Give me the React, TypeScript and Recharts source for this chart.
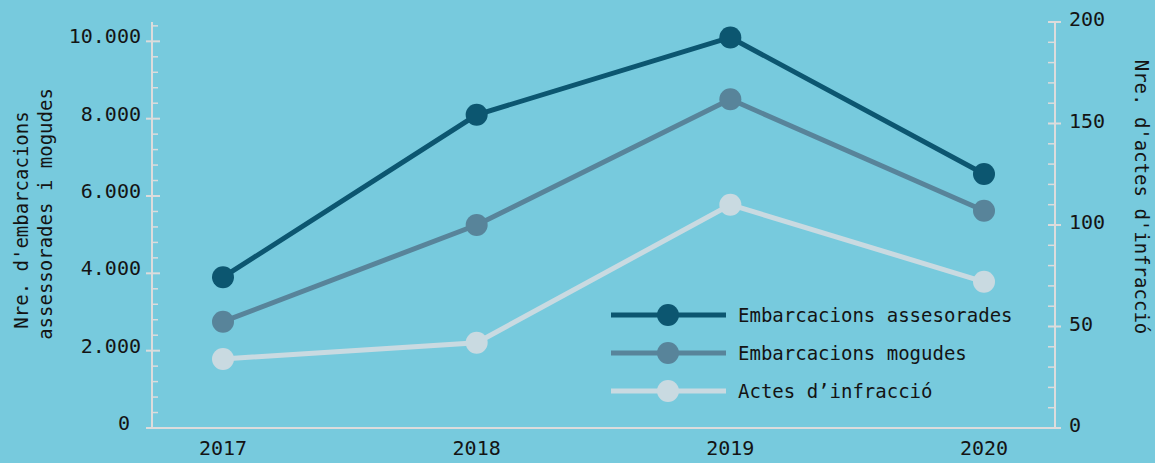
import { LineChart, Line, XAxis, YAxis, Legend } from 'recharts';

// ─── Data ─────────────────────────────────────────────────────────────────────

const YEARS = ['2017', '2018', '2019', '2020'];
const ASSESSORADES = [3900, 8100, 10100, 6570];
const MOGUDES = [2750, 5250, 8500, 5620];
const ACTES = [34, 42, 110, 72];

const LEFT_TICKS = Array.from({ length: 27 }, (_, i) => i * 400); // 0 … 10.400
const RIGHT_TICKS = Array.from({ length: 21 }, (_, i) => i * 10); // 0 … 200

const SERIES = [
  { key: 'assessorades', label: 'Embarcacions assesorades', color: '#0c5670', axis: 'left' },
  { key: 'mogudes', label: 'Embarcacions mogudes', color: '#58849a', axis: 'left' },
  { key: 'actes', label: 'Actes d’infracció', color: '#c9dae1', axis: 'right' },
];

const chartData = YEARS.map((year, i) => ({
  year,
  assessorades: ASSESSORADES[i],
  mogudes: MOGUDES[i],
  actes: ACTES[i],
}));

// ─── Style ────────────────────────────────────────────────────────────────────

const BG = '#77cadd';
const AXIS = '#dcdcdc';
const INK = '#141414';
const FONT = '"DejaVu Sans Mono", monospace';

const fmt = (v: number) => String(v).replace(/\B(?=(\d{3})+(?!\d))/g, '.');

// ─── Ticks ────────────────────────────────────────────────────────────────────

function LeftTick({ x, y, payload }: any) {
  const v = payload.value as number;
  if (v % 2000 !== 0) {
    return <line x1={x} x2={x + 6} y1={y} y2={y} stroke={AXIS} strokeWidth={1.5} />;
  }
  return (
    <g>
      <line x1={x - 6} x2={x + 8} y1={y} y2={y} stroke={AXIS} strokeWidth={2} />
      <text
        x={x - (v === 0 ? 22 : 11)}
        y={y + 2}
        textAnchor="end"
        fontFamily={FONT}
        fontSize={20}
        fill={INK}
      >
        {fmt(v)}
      </text>
    </g>
  );
}

function RightTick({ x, y, payload }: any) {
  const v = payload.value as number;
  if (v % 50 !== 0) {
    return <line x1={x - 7} x2={x} y1={y} y2={y} stroke={AXIS} strokeWidth={1.5} />;
  }
  return (
    <g>
      <line x1={x - 7} x2={x + 6} y1={y} y2={y} stroke={AXIS} strokeWidth={2} />
      <text x={x + 14} y={y + 4} textAnchor="start" fontFamily={FONT} fontSize={20} fill={INK}>
        {v}
      </text>
    </g>
  );
}

function YearTick({ x, y, payload }: any) {
  return (
    <text x={x} y={y + 27} textAnchor="middle" fontFamily={FONT} fontSize={20} fill={INK}>
      {payload.value}
    </text>
  );
}

// ─── Axis titles ──────────────────────────────────────────────────────────────

function LeftTitle() {
  return (
    <g fontFamily={FONT} fontSize={19} fill={INK}>
      <text x={21} y={220} textAnchor="middle" dominantBaseline="central" transform="rotate(-90, 21, 220)">
        Nre. d'embarcacions
      </text>
      <text x={45} y={214} textAnchor="middle" dominantBaseline="central" transform="rotate(-90, 45, 214)">
        assessorades i mogudes
      </text>
    </g>
  );
}

function RightTitle() {
  return (
    <text
      x={1142}
      y={197}
      textAnchor="middle"
      dominantBaseline="central"
      transform="rotate(90, 1142, 197)"
      fontFamily={FONT}
      fontSize={19}
      fill={INK}
    >
      Nre. d'actes d'infracció
    </text>
  );
}

// ─── Legend ───────────────────────────────────────────────────────────────────

function LegendBox() {
  return (
    <svg width={1155} height={463} style={{ position: 'absolute', left: 0, top: 0 }}>
      {SERIES.map((s, i) => {
        const cy = 315 + i * 38;
        return (
          <g key={s.key}>
            <line x1={611} x2={726} y1={cy} y2={cy} stroke={s.color} strokeWidth={5} />
            <circle cx={668} cy={cy} r={11} fill={s.color} />
            <text x={738} y={cy + 7} fontFamily={FONT} fontSize={19} fill={INK}>
              {s.label}
            </text>
          </g>
        );
      })}
    </svg>
  );
}

// ─── Chart ────────────────────────────────────────────────────────────────────

export default function App() {
  return (
    <div style={{ width: 1155, height: 463, background: BG, position: 'relative' }}>
      <style>{'body{margin:0}'}</style>
      <LineChart
        width={1155}
        height={463}
        data={chartData}
        margin={{ top: 22, right: 0, bottom: 0, left: 0 }}
      >
        <XAxis
          dataKey="year"
          height={35}
          padding={{ left: 71, right: 71 }}
          axisLine={{ stroke: AXIS, strokeWidth: 2 }}
          tickLine={false}
          tickSize={0}
          tickMargin={0}
          tick={<YearTick />}
          interval={0}
        />
        <YAxis
          yAxisId="left"
          orientation="left"
          width={152}
          domain={[0, 10500]}
          ticks={LEFT_TICKS}
          interval={0}
          axisLine={{ stroke: AXIS, strokeWidth: 2 }}
          tickLine={false}
          tickSize={0}
          tickMargin={0}
          tick={<LeftTick />}
          label={<LeftTitle />}
        />
        <YAxis
          yAxisId="right"
          orientation="right"
          width={100}
          domain={[0, 200]}
          ticks={RIGHT_TICKS}
          interval={0}
          axisLine={{ stroke: AXIS, strokeWidth: 2 }}
          tickLine={false}
          tickSize={0}
          tickMargin={0}
          tick={<RightTick />}
          label={<RightTitle />}
        />
        <Legend
          layout="vertical"
          align="center"
          verticalAlign="middle"
          wrapperStyle={{ position: 'absolute', left: 0, top: 0, width: 1155, height: 463 }}
          content={() => <LegendBox />}
        />
        {[...SERIES].reverse().map((s) => (
          <Line
            key={s.key}
            yAxisId={s.axis}
            dataKey={s.key}
            type="linear"
            stroke={s.color}
            strokeWidth={5}
            dot={{ r: 11, fill: s.color, stroke: s.color, strokeWidth: 0 }}
            activeDot={false}
            isAnimationActive={false}
          />
        ))}
      </LineChart>
    </div>
  );
}
